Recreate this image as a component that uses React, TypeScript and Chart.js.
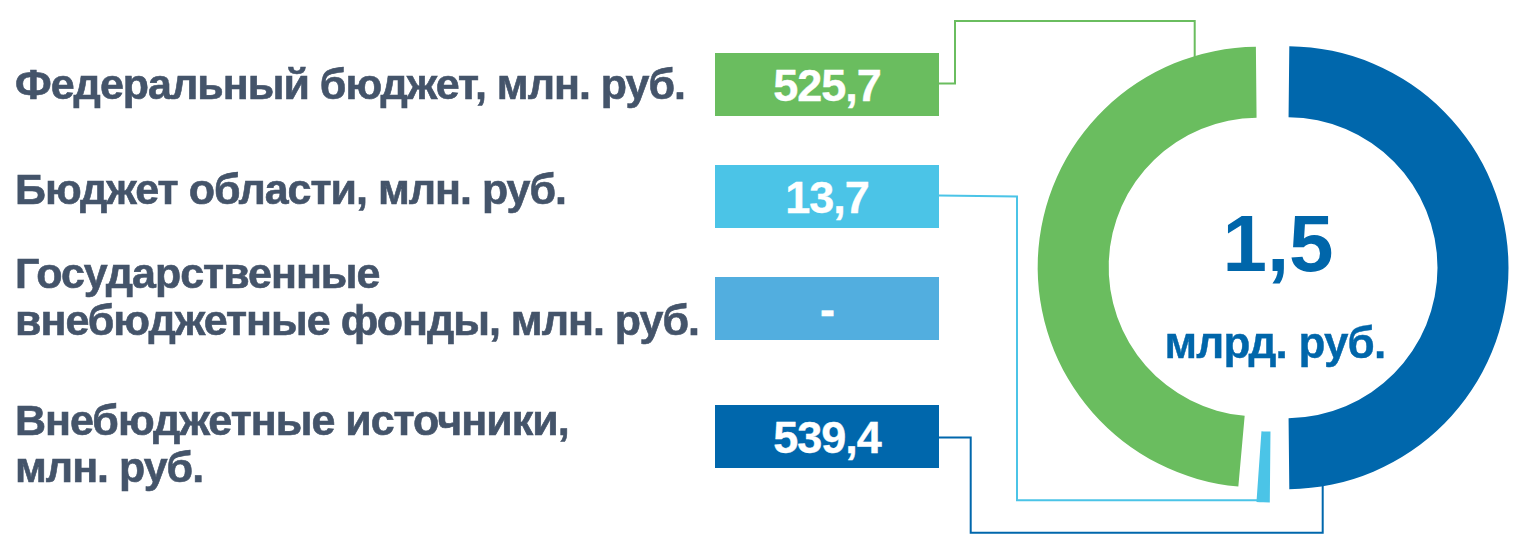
import React, { useEffect, useRef } from "react";
import { Chart, registerables } from "chart.js";

Chart.register(...registerables);

// ---------- data ----------
const categories: string[][] = [
  ["Федеральный бюджет, млн. руб."],
  ["Бюджет области, млн. руб."],
  ["Государственные", "внебюджетные фонды, млн. руб."],
  ["Внебюджетные источники,", "млн. руб."],
];
const values = [525.7, 13.7, 0, 539.4];
const valueLabels = ["525,7", "13,7", "-", "539,4"];
const colors = ["#6ABD5F", "#4BC4E7", "#52AEDF", "#0067AC"];
const totalLabel = "1,5";
const totalUnit = "млрд. руб.";

// ---------- layout ----------
const W = 1518;
const H = 540;
const CX = 1272.5;
const CY = 267.7;
const OUTER = 221.5;
const INNER = 150.5;
const EXPLODE = 14.5;
const OFFSET_OPT = EXPLODE * 4;
const BASE_R = OUTER - EXPLODE;
const CUTOUT = ((INNER - EXPLODE) / BASE_R) * 100 + "%";
const HALF = 240;

const FONT = '"Liberation Sans", Arial, sans-serif';
const LABEL_COLOR = "#44546A";
const CENTER_COLOR = "#0066AA";

const labelBaselines = [100, 205, 289, 436];
const LABEL_SIZE = 43;
const LABEL_LH = 47;

const BOX_X = 715;
const BOX_W = 224;
const BOX_H = 63;
const boxTops = [53, 165, 277, 405];

type Pt = [number, number];

function arcGeom(arc: any) {
  const p = arc.getProps(["x", "y", "startAngle", "endAngle", "outerRadius", "innerRadius", "circumference"], true);
  const t = OFFSET_OPT / 4;
  const h = (p.startAngle + p.endAngle) / 2;
  const fix = 1 - Math.sin(Math.min(Math.PI, p.circumference || 0));
  const ro = t * fix;
  return {
    cx: p.x + Math.cos(h) * t,
    cy: p.y + Math.sin(h) * t,
    R: p.outerRadius + ro,
    start: p.startAngle,
    end: p.endAngle,
  };
}

const connectorPlugin = {
  id: "connectors",
  beforeDatasetsDraw(chart: any) {
    const meta = chart.getDatasetMeta(0);
    const n = values.length;
    const ctx = chart.ctx as CanvasRenderingContext2D;
    const arcOf = (i: number) => arcGeom(meta.data[n - 1 - i]);
    const boxMid = (i: number) => boxTops[i] + BOX_H / 2;
    const right = BOX_X + BOX_W;

    const paths: { i: number; pts: Pt[] }[] = [];
    // Federal budget (green) -> top of green arc
    {
      const g = arcOf(0);
      const x = 1194.7;
      const y = g.cy - Math.sqrt(g.R * g.R - (x - g.cx) * (x - g.cx)) + 4;
      paths.push({ i: 0, pts: [[right, boxMid(0) - 1], [955, boxMid(0) - 1], [955, 21], [x, 21], [x, y]] });
    }
    // Regional budget (light blue) -> outer corner of its slice
    {
      const g = arcOf(1);
      const cx = g.cx + Math.cos(g.end) * g.R;
      const cy = g.cy + Math.sin(g.end) * g.R - 1.5;
      paths.push({ i: 1, pts: [[right, boxMid(1) - 1], [1017, boxMid(1)], [1017, cy], [cx + 4, cy]] });
    }
    // Extra-budgetary sources (dark blue) -> bottom of blue arc
    {
      const g = arcOf(3);
      const x = 1322.7;
      const y = g.cy + Math.sqrt(g.R * g.R - (x - g.cx) * (x - g.cx)) - 4;
      paths.push({ i: 3, pts: [[right, boxMid(3) + 1], [970.7, boxMid(3) + 1], [970.7, 532.7], [x, 532.7], [x, y]] });
    }

    ctx.save();
    ctx.lineWidth = 2;
    ctx.lineJoin = "miter";
    for (const p of paths) {
      ctx.strokeStyle = colors[p.i];
      ctx.beginPath();
      p.pts.forEach(([x, y], k) => (k === 0 ? ctx.moveTo(x, y) : ctx.lineTo(x, y)));
      ctx.stroke();
    }
    ctx.restore();
  },
};

export default function App() {
  const canvasRef = useRef<HTMLCanvasElement | null>(null);

  useEffect(() => {
    if (!canvasRef.current) return;
    const order = values.map((_, i) => values.length - 1 - i);
    const chart = new Chart(canvasRef.current, {
      type: "doughnut",
      data: {
        labels: order.map((i) => categories[i].join(" ")),
        datasets: [
          {
            data: order.map((i) => values[i]),
            backgroundColor: order.map((i) => colors[i]),
            borderWidth: 0,
            offset: OFFSET_OPT,
          },
        ],
      },
      options: {
        animation: false,
        responsive: true,
        maintainAspectRatio: false,
        events: [],
        radius: BASE_R,
        cutout: CUTOUT,
        rotation: 0,
        layout: {
          padding: {
            left: CX - HALF,
            right: W - CX - HALF,
            top: CY - HALF,
            bottom: H - CY - HALF,
          },
        },
        plugins: {
          legend: { display: false },
          tooltip: { enabled: false },
          title: { display: false },
        },
      } as any,
      plugins: [connectorPlugin],
    });
    return () => chart.destroy();
  }, []);

  return (
    <div
      style={{
        position: "fixed",
        left: 0,
        top: 0,
        width: W,
        height: H,
        background: "#ffffff",
        fontFamily: FONT,
        overflow: "hidden",
      }}
    >
      <div style={{ position: "absolute", left: 0, top: 0, width: W, height: H }}>
        <canvas ref={canvasRef} />
      </div>

      {categories.map((lines, i) => (
        <div
          key={"lbl" + i}
          style={{
            position: "absolute",
            left: 15,
            top: labelBaselines[i] - 38.7,
            fontSize: LABEL_SIZE,
            lineHeight: LABEL_LH + "px",
            fontWeight: 700,
            color: LABEL_COLOR,
            whiteSpace: "nowrap",
            letterSpacing: -1,
            WebkitTextStroke: "0.6px " + LABEL_COLOR,
          }}
        >
          {lines.map((l, k) => (
            <div key={k}>{l}</div>
          ))}
        </div>
      ))}

      {valueLabels.map((v, i) => (
        <div
          key={"box" + i}
          style={{
            position: "absolute",
            left: BOX_X,
            top: boxTops[i],
            width: BOX_W,
            height: BOX_H,
            background: colors[i],
            color: "#ffffff",
            fontSize: 45,
            fontWeight: 700,
            lineHeight: "66px",
            textAlign: "center",
            letterSpacing: -1,
            WebkitTextStroke: "0.4px #ffffff",
          }}
        >
          {v}
        </div>
      ))}

      <div
        style={{
          position: "absolute",
          left: 1278 - 150,
          top: 204.3,
          width: 300,
          textAlign: "center",
          fontSize: 80,
          lineHeight: "80px",
          fontWeight: 700,
          color: CENTER_COLOR,
        }}
      >
        {totalLabel}
      </div>
      <div
        style={{
          position: "absolute",
          left: 1275 - 150,
          top: 320.7,
          width: 300,
          textAlign: "center",
          fontSize: 44,
          lineHeight: "44px",
          fontWeight: 700,
          color: CENTER_COLOR,
          letterSpacing: -0.8,
          WebkitTextStroke: "0.4px " + CENTER_COLOR,
        }}
      >
        {totalUnit}
      </div>
    </div>
  );
}
